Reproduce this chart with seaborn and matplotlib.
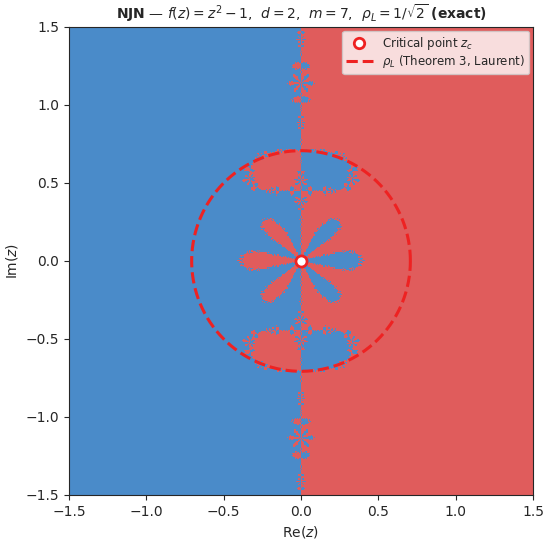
import numpy as np
import matplotlib
matplotlib.use("Agg")
import matplotlib.pyplot as plt
import seaborn as sns
from matplotlib.colors import ListedColormap
from matplotlib.lines import Line2D

# plot window and labels
re_lim = [-1.5, 1.5]
im_lim = [-1.5, 1.5]
ticks = [-1.5, -1.0, -0.5, 0.0, 0.5, 1.0, 1.5]
roots = [-1.0, 1.0]
basin_colors = ["#4a8bc9", "#e05c5c"]
crit_point = [0.0, 0.0]
rho_L = 1 / np.sqrt(2)
n_grid = 700
n_iter = 30


def f(z):
    return z * z - 1


def fp(z):
    return 2 * z


def njn_step(z):
    # Jarratt-type step with weight in r = f'(y)/f'(z), then frozen Newton step
    u = f(z) / fp(z)
    y = z - 2 / 3 * u
    r = fp(y) / fp(z)
    x1 = z - (-0.5 + 9 / (8 * r) + 3 * r / 8) * u
    return x1 - f(x1) / fp(z)


xs = np.linspace(re_lim[0], re_lim[1], n_grid)
ys = np.linspace(im_lim[1], im_lim[0], n_grid)
X, Y = np.meshgrid(xs, ys)
z = X + 1j * Y
with np.errstate(all="ignore"):
    for _ in range(n_iter):
        z = njn_step(z)
        z = np.where(np.isfinite(z), z, 1e6)

# which root each point ends up at
dist = np.stack([np.abs(z - r) for r in roots])
basin = np.argmin(dist, axis=0).astype(float)

sns.set_style("ticks")
fig = plt.figure(figsize=(5.5, 5.43), dpi=100)
ax = fig.add_axes([0.1255, 0.0884, 0.8436, 0.8619])
ax.imshow(basin, extent=[re_lim[0], re_lim[1], im_lim[0], im_lim[1]],
          cmap=ListedColormap(basin_colors), aspect="auto", interpolation="nearest")

t = np.linspace(0, 2 * np.pi, 400)
ax.plot(rho_L * np.cos(t), rho_L * np.sin(t), color="#ee2222", ls="--", lw=2.2)
ax.plot(crit_point[0], crit_point[1], "o", ms=8, mfc="white", mec="#ee2222", mew=2)

ax.set_xlim(re_lim)
ax.set_ylim(im_lim)
ax.set_xticks(ticks)
ax.set_yticks(ticks)
ax.set_xlabel("Re($z$)")
ax.set_ylabel("Im($z$)")
ax.set_title(r"$\mathbf{NJN}$ — $f(z) = z^2 - 1$,  $d = 2$,  $m = 7$,  $\rho_L = 1/\sqrt{2}$ $\mathbf{(exact)}$",
             fontsize=10)

handles = [
    Line2D([], [], ls="none", marker="o", ms=7.5, mfc="white", mec="#ee2222", mew=2),
    Line2D([], [], color="#ee2222", ls="--", lw=2.2),
]
ax.legend(handles, ["Critical point $z_c$", r"$\rho_L$ (Theorem 3, Laurent)"],
          loc="upper right", fontsize=8.5, labelspacing=0.15, borderpad=0.3,
          borderaxespad=0.35, handlelength=2.3)

fig.savefig("out.png", dpi=100)
